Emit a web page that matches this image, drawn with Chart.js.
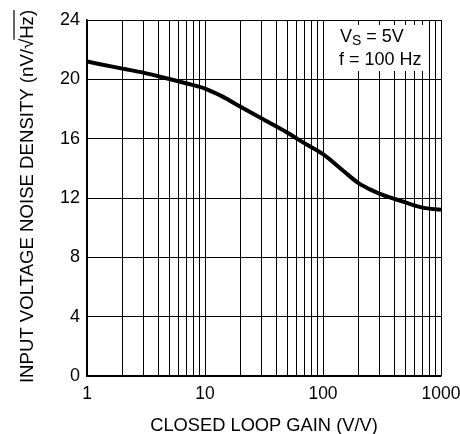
<!DOCTYPE html>
<html>
<head>
<meta charset="utf-8">
<script src="https://cdn.jsdelivr.net/npm/chart.js@4"></script>
<style>
  html, body { margin: 0; padding: 0; background: #fff; }
  #wrap { width: 460px; height: 434px; }
</style>
</head>
<body>
<div id="wrap"><canvas id="noiseChart" width="460" height="434"></canvas></div>
<script>
const gain = [1, 2, 3, 5, 7, 10, 14, 20, 30, 50, 70, 100, 150, 200, 250, 300, 400, 500, 700, 1000];
const noise = [21.2, 20.72, 20.45, 20.02, 19.72, 19.38, 18.85, 18.15, 17.37, 16.4, 15.68, 14.95, 13.8, 13.0, 12.58, 12.3, 11.95, 11.7, 11.35, 11.2];

const xGridValues = [1, 2, 3, 4, 5, 6, 7, 8, 9, 10, 20, 30, 40, 50, 60, 70, 80, 90,
                     100, 200, 300, 400, 500, 600, 700, 800, 900, 1000];
const xLabels = [1, 10, 100, 1000];
const yTicks = [0, 4, 8, 12, 16, 20, 24];

const yTitle = 'INPUT VOLTAGE NOISE DENSITY (nV/\u221AHz)';
const xTitle = 'CLOSED LOOP GAIN (V/V)';

const fontFamily = '"Liberation Sans", Arial, sans-serif';

// white box with the test conditions, plus the rotated y title with its overline
const annotations = {
    id: 'annotations',
    afterDraw(chart) {
        const ctx = chart.ctx;

        ctx.save();
        ctx.fillStyle = '#fff';
        ctx.fillRect(325, 25, 102, 46);
        ctx.fillStyle = '#000';
        ctx.textBaseline = 'alphabetic';
        ctx.textAlign = 'left';
        ctx.font = '18px ' + fontFamily;
        ctx.fillText('V', 340, 42);
        const vw = ctx.measureText('V').width;
        ctx.font = '14px ' + fontFamily;
        ctx.fillText('S', 340 + vw, 45);
        const sw = ctx.measureText('S').width;
        ctx.font = '18px ' + fontFamily;
        ctx.fillText(' = 5V', 340 + vw + sw, 42);
        ctx.fillText('f = 100 Hz', 339, 64.5);
        ctx.restore();

        // y axis title
        ctx.save();
        ctx.font = '18.6px ' + fontFamily;
        ctx.fillStyle = '#000';
        ctx.strokeStyle = '#000';
        ctx.translate(33, 196.5);
        ctx.rotate(-Math.PI / 2);
        ctx.textAlign = 'left';
        ctx.textBaseline = 'alphabetic';
        const full = ctx.measureText(yTitle).width;
        const start = -full / 2;
        ctx.fillText(yTitle, start, 0);
        const pre = ctx.measureText('INPUT VOLTAGE NOISE DENSITY (nV/\u221A').width;
        ctx.lineWidth = 1.2;
        ctx.beginPath();
        ctx.moveTo(start + pre - 1, -19);
        ctx.lineTo(start + full, -19);
        ctx.stroke();
        ctx.restore();
    }
};

new Chart(document.getElementById('noiseChart'), {
    type: 'line',
    data: {
        datasets: [{
            data: gain.map((g, i) => ({ x: g, y: noise[i] })),
            borderColor: '#000',
            borderWidth: 4,
            pointRadius: 0,
            fill: false,
            cubicInterpolationMode: 'monotone'
        }]
    },
    options: {
        responsive: false,
        animation: false,
        layout: { padding: { left: 0, right: 19, top: 20, bottom: 0 } },
        plugins: { legend: { display: false }, tooltip: { enabled: false } },
        scales: {
            x: {
                type: 'logarithmic',
                min: 1,
                max: 1000,
                afterBuildTicks: scale => { scale.ticks = xGridValues.map(v => ({ value: v })); },
                afterFit: scale => {
                    scale.height = 58;
                    scale.paddingRight = 0;
                },
                grid: { color: '#000', lineWidth: 1, drawTicks: false },
                border: { color: '#000', width: 1.5 },
                ticks: {
                    autoSkip: false,
                    maxRotation: 0,
                    padding: 8,
                    color: '#000',
                    font: { family: fontFamily, size: 17.5 },
                    callback: v => xLabels.includes(v) ? String(v) : ''
                },
                title: {
                    display: true,
                    text: xTitle,
                    color: '#000',
                    font: { family: fontFamily, size: 18.3 },
                    padding: { top: 4, bottom: -2.5 }
                }
            },
            y: {
                min: 0,
                max: 24,
                afterBuildTicks: scale => { scale.ticks = yTicks.map(v => ({ value: v })); },
                afterFit: scale => { scale.width = 87; },
                grid: { color: '#000', lineWidth: 1, drawTicks: false },
                border: { color: '#000', width: 1.5 },
                ticks: {
                    padding: 7,
                    color: '#000',
                    font: { family: fontFamily, size: 18 }
                }
            }
        }
    },
    plugins: [annotations]
});
</script>
</body>
</html>
